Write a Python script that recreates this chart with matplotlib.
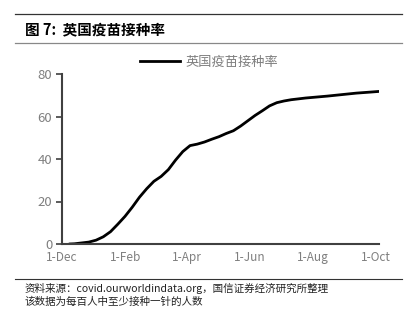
import matplotlib
matplotlib.use('Agg')
import matplotlib.pyplot as plt
import numpy as np
import pandas as pd
from matplotlib.lines import Line2D

plt.rcParams['font.family'] = ['Noto Sans CJK SC', 'DejaVu Sans']

# 英国疫苗接种率 (每百人中至少接种一针的人数)
dates = ['2020-12-08', '2020-12-13', '2020-12-20', '2020-12-27', '2021-01-03',
         '2021-01-10', '2021-01-17', '2021-01-24', '2021-01-31', '2021-02-07',
         '2021-02-14', '2021-02-21', '2021-02-28', '2021-03-07', '2021-03-14',
         '2021-03-21', '2021-03-28', '2021-04-04', '2021-04-11', '2021-04-18',
         '2021-04-25', '2021-05-02', '2021-05-09', '2021-05-16', '2021-05-23',
         '2021-05-30', '2021-06-06', '2021-06-13', '2021-06-20', '2021-06-27',
         '2021-07-04', '2021-07-11', '2021-07-18', '2021-07-25', '2021-08-01',
         '2021-08-15', '2021-08-29', '2021-09-12', '2021-09-26', '2021-10-04']
rate = [0.0, 0.1, 0.5, 0.9, 1.8,
        3.4, 5.8, 9.3, 13.0, 17.3,
        22.0, 26.0, 29.5, 31.8, 35.0,
        39.5, 43.5, 46.3, 47.0, 48.0,
        49.3, 50.5, 52.0, 53.3, 55.5,
        58.0, 60.5, 62.7, 65.0, 66.5,
        67.3, 67.9, 68.3, 68.7, 69.0,
        69.6, 70.3, 71.0, 71.5, 71.8]
tick_dates = ['2020-12-01', '2021-02-01', '2021-04-01', '2021-06-01', '2021-08-01', '2021-10-01']
tick_labels = ['1-Dec', '1-Feb', '1-Apr', '1-Jun', '1-Aug', '1-Oct']
y_ticks = [0, 20, 40, 60, 80]

W, H = 408, 315
fig = plt.figure(figsize=(W / 100, H / 100), dpi=100)
ax = fig.add_axes([62 / W, 1 - 244 / H, (379 - 62) / W, (244 - 74) / H])

x = pd.to_datetime(dates)
ax.plot(x, rate, color='black', lw=2.0, solid_capstyle='round')

ax.set_xlim(pd.Timestamp('2020-12-01'), pd.Timestamp('2021-10-04'))
ax.set_ylim(0, 80)
ax.set_xticks(pd.to_datetime(tick_dates))
ax.set_xticklabels(tick_labels)
ax.set_yticks(y_ticks)

gray = '#7f7f7f'
for s in ['top', 'right']:
    ax.spines[s].set_visible(False)
for s in ['left', 'bottom']:
    ax.spines[s].set_color('#404040')
    ax.spines[s].set_linewidth(1.5)
ax.tick_params(axis='y', direction='out', length=4, width=1.2, color='#404040',
               labelcolor=gray, labelsize=9.5, pad=3)
ax.tick_params(axis='x', length=0, labelcolor=gray, labelsize=8.5, pad=5)

# legend
leg = ax.legend([Line2D([0], [0], color='black', lw=2)], ['英国疫苗接种率'],
                loc='center', bbox_to_anchor=(209 / W, 1 - 62 / H),
                bbox_transform=fig.transFigure, frameon=False, fontsize=9.5,
                handlelength=3.0, handletextpad=0.4)
for t in leg.get_texts():
    t.set_color(gray)

# header and footer
fig.add_artist(Line2D([15 / W, 402 / W], [1 - 14 / H] * 2, color='#333333', lw=0.9))
fig.add_artist(Line2D([15 / W, 402 / W], [1 - 43 / H] * 2, color='#888888', lw=0.9))
fig.add_artist(Line2D([15 / W, 402 / W], [1 - 279 / H] * 2, color='#333333', lw=0.8))
fig.text(25 / W, 1 - 29 / H, '图 7:  英国疫苗接种率', fontsize=10.5, fontweight='bold',
         va='center', ha='left', color='black')
fig.text(25 / W, 1 - 288 / H, '资料来源：covid.ourworldindata.org，国信证券经济研究所整理',
         fontsize=7.6, va='center', ha='left', color='#222222')
fig.text(25 / W, 1 - 302 / H, '该数据为每百人中至少接种一针的人数',
         fontsize=7.6, va='center', ha='left', color='#222222')

fig.savefig('out.png', dpi=100)
